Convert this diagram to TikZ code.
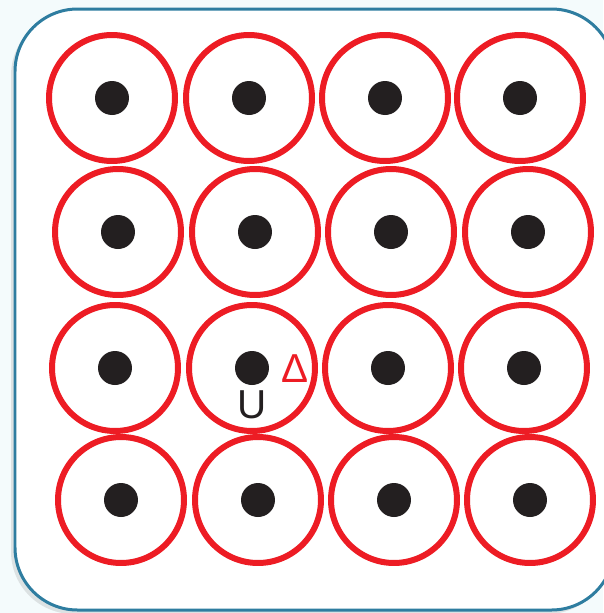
\documentclass[tikz,border=0pt]{standalone}
\usepackage{fontspec}
\newfontfamily\labelfont{Liberation Sans}
\usetikzlibrary{positioning,shadows}
\definecolor{paneback}{HTML}{F4FBFC}
\definecolor{paneedge}{HTML}{2E7DA0}
\definecolor{ringred}{HTML}{ED1C24}
\definecolor{dotblack}{HTML}{231F20}
\tikzset{
  ring/.style={circle,draw=ringred,line width=0.12cm,minimum size=2.52cm,inner sep=0pt},
  core/.style={circle,fill=dotblack,minimum size=0.68cm,inner sep=0pt},
  tag/.style={font=\labelfont\fontsize{23}{23}\selectfont,inner sep=0pt}
}

\begin{document}
\begin{tikzpicture}[x=0.02cm,y=-0.02cm]
  % frame of the picture
  \fill[paneback] (0,0) rectangle (603,613);
  \useasboundingbox (0,0) rectangle (603,613);
  \draw[paneedge,line width=0.06cm,fill=white,rounded corners=1.25cm,
    drop shadow={shadow xshift=-0.08cm,shadow yshift=-0.08cm,opacity=0.2}]
    (15,9) rectangle (614,610);
  \fill[white] (44,30) rectangle (594,567);

  % rings with their cores, row by row
  \foreach \r/\y/\xa/\xb/\xc/\xd in {1/98/112/249/385/520, 2/232/118/255/391/528,
      3/368/115/252/388/524, 4/500/121/258/394/530} {
    \foreach \c/\x in {1/\xa, 2/\xb, 3/\xc, 4/\xd} {
      \node[ring] (ring\r\c) at (\x,\y) {};
      \node[core] (core\r\c) at (\x,\y) {};
    }
  }

  % labels
  \node[tag,text=dotblack] (u) at (252,405) {U};
  \node[tag,text=ringred] (delta) at (295,369) {Δ};
\end{tikzpicture}
\end{document}
